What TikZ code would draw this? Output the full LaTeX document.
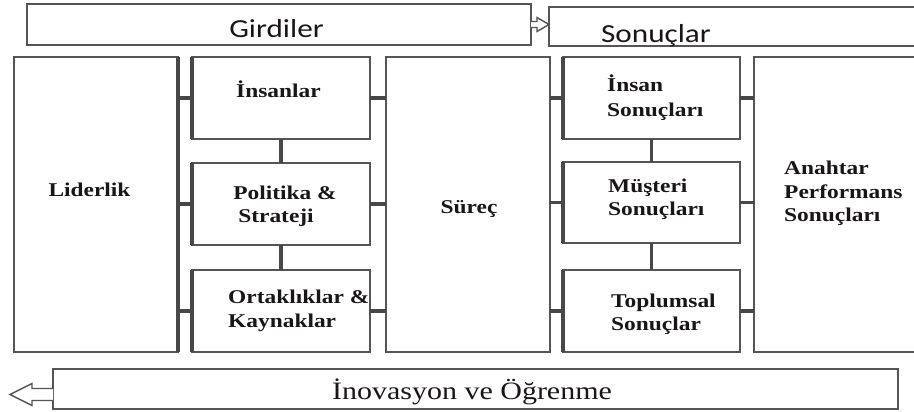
\documentclass[tikz,border=0pt]{standalone}
\usepackage{fontspec}
\newfontfamily\serifwide[FakeStretch=1.2]{Liberation Serif}
\newfontfamily\sanswide[FakeStretch=1.2]{Carlito}
\definecolor{edge}{HTML}{555555}
\definecolor{barc}{HTML}{484848}
\definecolor{ink}{HTML}{1A1616}
\begin{document}
\begin{tikzpicture}[x=1pt,y=-1pt,
  box/.style={draw=edge, line width=1.6pt, inner sep=0pt, outer sep=0pt,
    anchor=north west, fill=white},
  bar/.style={draw=barc, line width=3.5pt},
  blockarrow/.style={draw=edge, line width=1.4pt, fill=white, line join=miter},
  lbl/.style={inner sep=0pt, text=ink,
    font=\serifwide\bfseries\fontsize{19.5}{23.5}\selectfont},
  banner/.style={inner sep=0pt, anchor=base, text=ink,
    font=\sanswide\fontsize{26}{30}\selectfont},
  footer/.style={inner sep=0pt, anchor=base, text=ink,
    font=\serifwide\fontsize{25}{30}\selectfont}]
\useasboundingbox (0,0) rectangle (914,412);
\clip (0,0) rectangle (914,412);
\fill[white] (0,0) rectangle (914,412);

% header bands
\node[box, minimum width=504pt, minimum height=41pt] (gir) at (27,4) {};
\node[box, minimum width=380pt, minimum height=39pt] (son) at (549,7) {};

% enablers
\node[box, minimum width=164pt, minimum height=295pt] (lid) at (14,57) {};
\node[box, minimum width=178pt, minimum height=82pt] (ins) at (192,57) {};
\node[box, minimum width=178pt, minimum height=82pt] (pol) at (192,163) {};
\node[box, minimum width=178pt, minimum height=82pt] (ort) at (192,270) {};
\node[box, minimum width=164pt, minimum height=295pt] (sur) at (386,57) {};

% results
\node[box, minimum width=177pt, minimum height=82pt] (isn) at (563,57) {};
\node[box, minimum width=177pt, minimum height=81pt] (mus) at (563,162) {};
\node[box, minimum width=177pt, minimum height=82pt] (tps) at (563,270) {};
\node[box, minimum width=170pt, minimum height=295pt] (ana) at (754,57) {};

% innovation band
\node[box, minimum width=845pt, minimum height=40pt] (ino) at (53,369) {};

% heavy joints
\draw[bar] (lid.north east) -- (lid.south east);
\foreach \b in {ins,pol,ort,isn,mus,tps}
  \draw[bar] (\b.north west) -- (\b.south west);
\foreach \b in {ins,pol,ort} {
  \draw[bar] (\b.west) -- (\b.west -| lid.east);
  \draw[bar] (\b.east) -- (\b.east -| sur.west);
}
\foreach \b in {isn,mus,tps} {
  \draw[bar] (\b.west) -- (\b.west -| sur.east);
  \draw[bar] (\b.east) -- (\b.east -| ana.west);
}
\draw[bar] (ins.south) -- (pol.north);
\draw[bar] (pol.south) -- (ort.north);
\draw[bar] (isn.south) -- (mus.north);
\draw[bar] (mus.south) -- (tps.north);

% hollow block arrows
\draw[blockarrow] (gir.east) ++(0,-3) -- ++(6,0) -- ++(0,-4) -- ++(12,7)
  -- ++(-12,7) -- ++(0,-4) -- ++(-6,0);
\draw[blockarrow] ([yshift=-5.5pt]ino.west) ++(0,-6) -- ++(-21,0) -- ++(0,-5)
  -- ++(-22,11) -- ++(22,11) -- ++(0,-5) -- ++(21,0);

% labels
\node[banner] (girT) at (276.5,38) {Girdiler};
\node[banner] (sonT) at (656,43) {Sonuçlar};

\node[lbl, anchor=base] (lidT) at (89.5,196) {Liderlik};
\node[lbl, anchor=base] (insT) at (278.5,98) {İnsanlar};
\node[lbl, anchor=base] (polT1) at (285,199) {Politika \&};
\node[lbl, anchor=base] (polT2) at (276,222) {Strateji};
\node[lbl, anchor=base west] (ortT1) at (228,303) {Ortaklıklar \&};
\node[lbl, anchor=base west] (ortT2) at (228,327) {Kaynaklar};
\node[lbl, anchor=base] (surT) at (469,213) {Süreç};

\node[lbl, anchor=base west] (isnT1) at (607,92) {İnsan};
\node[lbl, anchor=base west] (isnT2) at (607,117) {Sonuçları};
\node[lbl, anchor=base west] (musT1) at (608,192) {Müşteri};
\node[lbl, anchor=base west] (musT2) at (608,215) {Sonuçları};
\node[lbl, anchor=base west] (tpsT1) at (611,307) {Toplumsal};
\node[lbl, anchor=base west] (tpsT2) at (611,330) {Sonuçlar};
\node[lbl, anchor=base west] (anaT1) at (784,174) {Anahtar};
\node[lbl, anchor=base west] (anaT2) at (784,198) {Performans};
\node[lbl, anchor=base west] (anaT3) at (784,221) {Sonuçları};

\node[footer] (inoT) at (472,399) {İnovasyon ve Öğrenme};
\end{tikzpicture}
\end{document}
